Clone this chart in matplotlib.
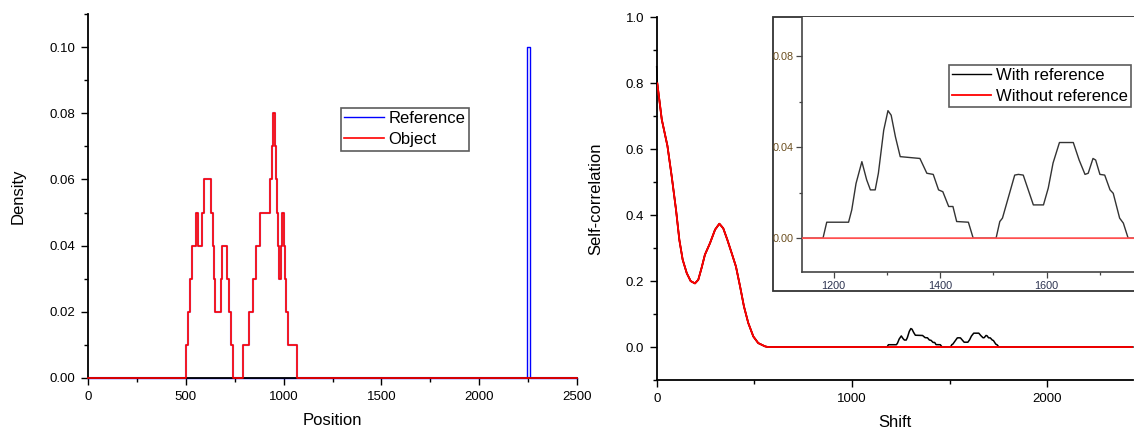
import matplotlib
matplotlib.use("Agg")
import matplotlib.pyplot as plt
from matplotlib.ticker import MultipleLocator
from matplotlib.patches import Rectangle

plt.rcParams['font.family'] = ['Liberation Sans', 'DejaVu Sans']

# ---------------- data: left panel (step densities) ----------------
object_pos = [0, 500, 510, 520, 533, 550, 564, 583, 593, 629, 639, 643, 647,
              680, 686, 711, 719, 729, 740, 792, 825, 845, 860, 881,
              930, 940, 944, 956, 961, 966, 971, 976, 987, 991, 1001, 1007,
              1014, 1022, 1068, 2500]
object_density = [0, 0.01, 0.02, 0.03, 0.04, 0.05, 0.04, 0.05, 0.06, 0.05, 0.04,
                  0.03, 0.02, 0.03, 0.04, 0.03, 0.02, 0.01, 0.0, 0.01,
                  0.02, 0.03, 0.04, 0.05, 0.06, 0.07, 0.08, 0.07, 0.06, 0.05,
                  0.04, 0.03, 0.04, 0.05, 0.04, 0.03, 0.02, 0.01, 0.0, 0.0]
spike_pos = [2242, 2258]
spike_density = [0.10, 0.0]

# ---------------- data: right panel (self-correlation) ----------------
decay_shift = [0, 3, 26, 55, 77, 99, 116, 133, 154, 174, 196, 213, 230, 247,
               273, 299, 321, 341, 362, 384, 406, 427, 447, 469, 495, 520,
               555, 570]
without_ref = [0.805, 0.80, 0.69, 0.61, 0.517, 0.416, 0.325, 0.265, 0.224, 0.20,
               0.193, 0.204, 0.24, 0.28, 0.315, 0.356, 0.374, 0.36, 0.325,
               0.285, 0.244, 0.184, 0.123, 0.073, 0.032, 0.012, 0.002, 0.0]
with_ref_start = [0.85, 0.80]
bump_shift = [1140, 1180, 1187, 1228, 1234, 1242, 1253, 1262, 1269, 1278, 1284,
              1294, 1302, 1308, 1316, 1325, 1362, 1375, 1387, 1397, 1405,
              1416, 1424, 1431, 1453, 1462, 1505, 1512, 1517, 1540, 1547,
              1556, 1575, 1594, 1603, 1612, 1624, 1650, 1661, 1672, 1678,
              1687, 1692, 1700, 1709, 1719, 1725, 1737, 1744, 1753, 2440]
bump_with_ref = [0, 0, 0.007, 0.007, 0.0124, 0.024, 0.0336, 0.0256, 0.0212,
                 0.0212, 0.0285, 0.0474, 0.056, 0.054, 0.0445, 0.0358, 0.035,
                 0.0285, 0.028, 0.0212, 0.0204, 0.0139, 0.0139, 0.0073, 0.007,
                 0, 0, 0.0073, 0.0088, 0.0277, 0.028, 0.0277, 0.0146, 0.0146,
                 0.022, 0.033, 0.042, 0.042, 0.0343, 0.028, 0.0285, 0.035,
                 0.0343, 0.028, 0.0277, 0.0212, 0.0197, 0.0088, 0.0066, 0, 0]

x_left_ticks = [0, 500, 1000, 1500, 2000, 2500]

# ---------------- build series ----------------
ref_pos = [0, spike_pos[0], spike_pos[1], object_pos[-1]]
ref_density = [0.0, spike_density[0], spike_density[1], 0.0]

red_x = decay_shift + [bump_shift[-1]]
red_y = without_ref + [0.0]
black_x = decay_shift + bump_shift
black_y = with_ref_start + without_ref[2:] + bump_with_ref

W, H = 1134, 432
fig = plt.figure(figsize=(W / 100, H / 100), dpi=100)

def fx(px):
    return px / W

def fy(py):
    return 1 - py / H

tick_kw = dict(direction='out', width=1.0, colors='black')

# ---------------- left panel ----------------
axL = fig.add_axes([fx(88), fy(378), fx(577 - 88), (378 - 14) / H])
axL.plot(ref_pos, ref_density, drawstyle='steps-post', color='#0000ff', lw=1.0,
         label='Reference', clip_on=False, zorder=2)
axL.plot(object_pos, object_density, drawstyle='steps-post', color='#0000ff',
         lw=1.6, alpha=0.35, zorder=2.5)
axL.plot(object_pos, object_density, drawstyle='steps-post', color='#ff0000',
         lw=1.2, label='Object', clip_on=False, zorder=3)
axL.set_xlim(0, 2500)
axL.set_ylim(0, 0.11)
axL.set_xticks(x_left_ticks)
axL.xaxis.set_minor_locator(MultipleLocator(250))
axL.set_yticks([0, 0.02, 0.04, 0.06, 0.08, 0.10])
axL.set_yticklabels(['0.00', '0.02', '0.04', '0.06', '0.08', '0.10'])
axL.yaxis.set_minor_locator(MultipleLocator(0.01))
axL.tick_params(which='major', length=5, labelsize=9.5, pad=4, **tick_kw)
axL.tick_params(which='minor', length=3, **tick_kw)
for s in ['top', 'right']:
    axL.spines[s].set_visible(False)
for s in ['left', 'bottom']:
    axL.spines[s].set_linewidth(1.3)
axL.set_xlabel('Position', fontsize=12)
axL.set_ylabel('Density', fontsize=12)
axL.xaxis.set_label_coords(0.5, -0.096)
axL.yaxis.set_label_coords(-0.127, 0.5)
legL = axL.legend(loc='upper left', bbox_to_anchor=(fx(341), fy(108)),
                  bbox_transform=fig.transFigure, fontsize=12, frameon=True,
                  fancybox=False, shadow=False, borderpad=0.2,
                  handlelength=2.35, handletextpad=0.3, labelspacing=0.35,
                  borderaxespad=0)
legL.get_frame().set_edgecolor('#333333')
legL.get_frame().set_linewidth(1.2)

# ---------------- right panel ----------------
axR = fig.add_axes([fx(656.7), fy(380), fx(1133 - 656.7), (380 - 17.3) / H])
axR.plot(black_x, black_y, color='black', lw=1.1, zorder=4, clip_on=False)
axR.plot(red_x, red_y, color='#ff0000', lw=1.3, zorder=3)
axR.set_xlim(0, 2440)
axR.set_ylim(-0.1, 1.0)
axR.set_xticks([0, 1000, 2000])
axR.xaxis.set_minor_locator(MultipleLocator(500))
axR.set_yticks([0.0, 0.2, 0.4, 0.6, 0.8, 1.0])
axR.set_yticklabels(['0.0', '0.2', '0.4', '0.6', '0.8', '1.0'])
axR.yaxis.set_minor_locator(MultipleLocator(0.1))
axR.tick_params(which='major', length=5, labelsize=9.5, pad=4, **tick_kw)
axR.tick_params(which='minor', length=3, **tick_kw)
for s in ['top', 'right']:
    axR.spines[s].set_visible(False)
for s in ['left', 'bottom']:
    axR.spines[s].set_linewidth(1.3)
axR.set_xlabel('Shift', fontsize=12)
axR.set_ylabel('Self-correlation', fontsize=12)
axR.xaxis.set_label_coords(0.5, -0.0965)
axR.yaxis.set_label_coords(-0.1127, 0.5)
# red drawn above black except at the very start
axR.plot(red_x[1:], red_y[1:], color='#ff0000', lw=1.3, zorder=5)

# ---------------- inset ----------------
frame = Rectangle((fx(773), fy(291)), fx(1140 - 773), (291 - 17.3) / H,
                  transform=fig.transFigure, facecolor='white',
                  edgecolor='#333333', lw=1.3, zorder=5)
fig.patches.append(frame)

axI = fig.add_axes([fx(801.7), fy(272.3), fx(1134 - 801.7), (272.3 - 17.3) / H],
                   zorder=6)
axI.plot(black_x, black_y, color='#333333', lw=1.0, label='With reference', zorder=2)
axI.plot(red_x, red_y, color='#ff5050', lw=1.3, label='Without reference', zorder=3)
axI.set_xlim(1140, 1764)
axI.set_ylim(-0.015, 0.097)
axI.set_xticks([1200, 1400, 1600])
axI.xaxis.set_minor_locator(MultipleLocator(100))
axI.set_yticks([0.0, 0.04, 0.08])
axI.set_yticklabels(['0.00', '0.04', '0.08'])
axI.yaxis.set_minor_locator(MultipleLocator(0.02))
axI.tick_params(which='major', direction='out', length=4, width=0.9,
                colors='#444444', labelsize=7.8, pad=2)
axI.tick_params(which='minor', direction='out', length=2.5, width=0.9,
                colors='#444444')
for lab in axI.get_yticklabels():
    lab.set_color('#6b4e1f')
for lab in axI.get_xticklabels():
    lab.set_color('#2c3350')
for s in ['top', 'right']:
    axI.spines[s].set_visible(False)
for s in ['left', 'bottom']:
    axI.spines[s].set_linewidth(1.2)
    axI.spines[s].set_color('#444444')
legI = axI.legend(loc='upper left', bbox_to_anchor=(fx(949), fy(64.5)),
                  bbox_transform=fig.transFigure, fontsize=12, frameon=True,
                  fancybox=False, shadow=False, borderpad=0.2,
                  handlelength=2.3, handletextpad=0.3, labelspacing=0.35,
                  borderaxespad=0)
legI.get_frame().set_edgecolor('#333333')
legI.get_frame().set_linewidth(1.2)
legI.get_lines()[0].set_color('black')
legI.get_lines()[1].set_color('#ff0000')

fig.savefig('out.png', dpi=100)
